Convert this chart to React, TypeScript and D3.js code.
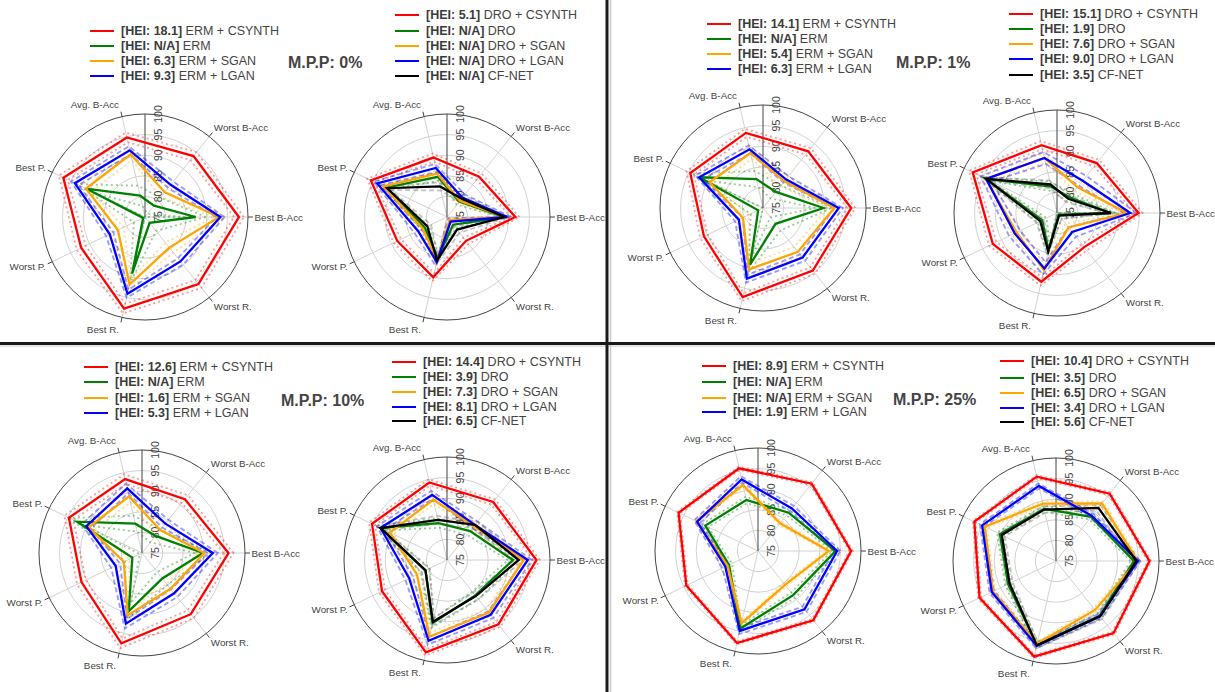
import React from "react";
import * as d3 from "d3";

// Metric axes, counter-clockwise from 3 o'clock
const AXES = ["Best B-Acc", "Worst B-Acc", "Avg. B-Acc", "Best P.", "Worst P.", "Best R.", "Worst R."];
const RADIAL_TICKS = [75, 80, 85, 90, 95, 100];
const RADIAL_RANGE = [75, 100];

const ERM_METHODS = ["ERM + CSYNTH", "ERM", "ERM + SGAN", "ERM + LGAN"];
const DRO_METHODS = ["DRO + CSYNTH", "DRO", "DRO + SGAN", "DRO + LGAN", "CF-NET"];
const ERM_COLORS = ["#ff0000", "#008000", "#ffa500", "#0000ff"];
const DRO_COLORS = ["#ff0000", "#008000", "#ffa500", "#0000ff", "#000000"];
const MPP_LABELS = ["0%", "1%", "10%", "25%"];

// ---- M.P.P 0% ----
const ERM_HEI_0 = ["18.1", "N/A", "6.3", "9.3"];
const ERM_SCORES_0 = [
  [97.8, 93.9, 94.8, 97.0, 92.2, 97.8, 95.8],
  [87.3, 78.5, 80.3, 90.9, 75.5, 89.1, 76.8],
  [93.0, 82.7, 90.6, 90.9, 82.3, 91.8, 84.5],
  [93.3, 85.0, 91.6, 93.9, 84.5, 94.1, 88.8],
];
const ERM_SPREAD_0 = [1.2, 2.5, 1.5, 1.0];
const DRO_HEI_0 = ["5.1", "N/A", "N/A", "N/A", "N/A"];
const DRO_SCORES_0 = [
  [91.6, 87.5, 89.8, 95.5, 88.4, 90.0, 82.4],
  [88.9, 79.8, 85.0, 91.4, 81.0, 85.1, 77.4],
  [89.2, 80.0, 85.8, 92.1, 81.5, 85.8, 76.0],
  [89.6, 81.0, 87.2, 93.8, 82.8, 86.2, 76.4],
  [88.9, 80.7, 82.6, 91.1, 80.3, 85.8, 78.9],
];
const DRO_SPREAD_0 = [1.0, 1.0, 0.8, 1.0, 1.0];

// ---- M.P.P 1% ----
const ERM_HEI_1 = ["14.1", "N/A", "5.4", "6.3"];
const ERM_SCORES_1 = [
  [96.4, 92.6, 93.7, 94.6, 90.9, 97.2, 94.4],
  [89.7, 80.0, 82.2, 92.2, 76.3, 89.1, 79.9],
  [92.3, 83.3, 88.7, 89.4, 80.4, 90.3, 88.6],
  [93.4, 83.9, 89.6, 92.2, 81.5, 92.6, 90.4],
];
const ERM_SPREAD_1 = [1.0, 2.0, 1.5, 1.0];
const DRO_HEI_1 = ["15.1", "1.9", "7.6", "9.0", "3.5"];
const DRO_SCORES_1 = [
  [94.8, 90.5, 91.9, 97.7, 92.3, 92.1, 85.6],
  [88.0, 79.9, 81.6, 94.1, 79.0, 84.2, 75.6],
  [92.0, 83.0, 88.7, 94.1, 85.9, 89.2, 79.5],
  [92.8, 85.0, 88.7, 94.1, 86.4, 88.8, 80.9],
  [88.1, 79.4, 82.1, 94.1, 79.5, 84.6, 75.8],
];
const DRO_SPREAD_1 = [1.0, 1.2, 1.2, 1.5, 1.0];

// ---- M.P.P 10% ----
const ERM_HEI_10 = ["12.6", "N/A", "1.6", "5.3"];
const ERM_SCORES_10 = [
  [96.0, 91.7, 93.4, 94.7, 91.3, 97.5, 94.0],
  [89.8, 80.3, 82.3, 92.5, 77.6, 89.5, 82.9],
  [90.1, 82.1, 89.1, 89.4, 79.9, 90.5, 86.1],
  [92.2, 84.1, 91.1, 90.0, 82.1, 92.6, 87.5],
];
const ERM_SPREAD_10 = [1.2, 2.0, 1.5, 1.2];
const DRO_HEI_10 = ["14.4", "3.9", "7.3", "8.1", "6.5"];
const DRO_SCORES_10 = [
  [96.7, 93.0, 94.3, 95.2, 92.5, 98.0, 95.0],
  [91.0, 84.0, 84.2, 92.9, 80.8, 90.7, 86.0],
  [93.6, 85.5, 90.0, 90.4, 83.1, 94.1, 91.3],
  [94.6, 85.9, 91.2, 92.9, 85.2, 95.1, 92.0],
  [92.4, 85.9, 85.0, 92.9, 80.8, 90.4, 86.2],
];
const DRO_SPREAD_10 = [0.8, 1.2, 1.0, 1.0, 1.0];

// ---- M.P.P 25% ----
const ERM_HEI_25 = ["8.9", "N/A", "N/A", "1.9"];
const ERM_SCORES_25 = [
  [97.6, 95.9, 95.6, 96.4, 94.3, 97.9, 96.5],
  [93.8, 86.9, 87.7, 89.2, 82.8, 94.3, 88.7],
  [92.2, 83.6, 91.4, 91.6, 83.2, 93.0, 85.5],
  [94.2, 88.2, 92.8, 91.4, 83.8, 94.9, 93.1],
];
const ERM_SPREAD_25 = [0.4, 0.8, 0.5, 0.8];
const DRO_HEI_25 = ["10.4", "3.5", "6.5", "3.4", "5.6"];
const DRO_SCORES_25 = [
  [97.7, 95.9, 96.0, 97.0, 95.6, 98.8, 97.4],
  [93.9, 88.7, 88.0, 90.1, 87.9, 95.9, 92.0],
  [94.8, 92.9, 89.3, 94.2, 92.0, 95.6, 90.2],
  [94.9, 89.0, 93.7, 94.9, 92.3, 96.1, 92.1],
  [94.5, 91.5, 87.8, 89.6, 87.5, 96.0, 92.2],
];
const DRO_SPREAD_25 = [0.4, 0.8, 0.6, 0.6, 0.8];

type Group = { names: string[]; colors: string[]; hei: string[]; scores: number[][]; spread: number[] };

const PANEL_GROUPS: { erm: Group; dro: Group }[] = [
  {
    erm: { names: ERM_METHODS, colors: ERM_COLORS, hei: ERM_HEI_0, scores: ERM_SCORES_0, spread: ERM_SPREAD_0 },
    dro: { names: DRO_METHODS, colors: DRO_COLORS, hei: DRO_HEI_0, scores: DRO_SCORES_0, spread: DRO_SPREAD_0 },
  },
  {
    erm: { names: ERM_METHODS, colors: ERM_COLORS, hei: ERM_HEI_1, scores: ERM_SCORES_1, spread: ERM_SPREAD_1 },
    dro: { names: DRO_METHODS, colors: DRO_COLORS, hei: DRO_HEI_1, scores: DRO_SCORES_1, spread: DRO_SPREAD_1 },
  },
  {
    erm: { names: ERM_METHODS, colors: ERM_COLORS, hei: ERM_HEI_10, scores: ERM_SCORES_10, spread: ERM_SPREAD_10 },
    dro: { names: DRO_METHODS, colors: DRO_COLORS, hei: DRO_HEI_10, scores: DRO_SCORES_10, spread: DRO_SPREAD_10 },
  },
  {
    erm: { names: ERM_METHODS, colors: ERM_COLORS, hei: ERM_HEI_25, scores: ERM_SCORES_25, spread: ERM_SPREAD_25 },
    dro: { names: DRO_METHODS, colors: DRO_COLORS, hei: DRO_HEI_25, scores: DRO_SCORES_25, spread: DRO_SPREAD_25 },
  },
];

// Placement of each panel's pieces
type Layout = {
  ermCenter: [number, number];
  droCenter: [number, number];
  ermLegend: { x: number; rows: number[] };
  droLegend: { x: number; rows: number[] };
  mpp: [number, number];
};
const LAYOUTS: Layout[] = [
  { ermCenter: [145, 217], droCenter: [447, 217], ermLegend: { x: 90, rows: [31, 46, 61, 76] }, droLegend: { x: 395, rows: [15, 31, 46, 61, 76] }, mpp: [288, 62] },
  { ermCenter: [763, 208], droCenter: [1057, 213], ermLegend: { x: 707, rows: [24, 39, 54, 69] }, droLegend: { x: 1009, rows: [14, 29, 44, 59, 75] }, mpp: [896, 62] },
  { ermCenter: [142, 553], droCenter: [447, 560], ermLegend: { x: 84, rows: [367, 382, 398, 413] }, droLegend: { x: 392, rows: [362, 377, 392, 407, 421] }, mpp: [281, 400] },
  { ermCenter: [758, 551], droCenter: [1056, 561], ermLegend: { x: 702, rows: [366, 382, 398, 412] }, droLegend: { x: 1000, rows: [361, 378, 393, 408, 422] }, mpp: [893, 399] },
];

const FONT = "'Liberation Sans', Arial, sans-serif";
const R = 103;
const rScale = d3.scaleLinear().domain(RADIAL_RANGE).range([0, R]);
const step = (2 * Math.PI) / AXES.length;
const theta = (i: number) => i * step; // math angle, counter-clockwise

const radialLine = d3
  .lineRadial<number>()
  .angle((_d, i) => Math.PI / 2 - theta(i))
  .radius((d) => rScale(Math.max(RADIAL_RANGE[0], Math.min(RADIAL_RANGE[1], d))))
  .curve(d3.curveLinearClosed);

function Radar({ cx, cy, group }: { cx: number; cy: number; group: Group }) {
  const axisColor = "#444";
  return (
    <g transform={`translate(${cx},${cy})`}>
      {RADIAL_TICKS.filter((t) => t > 75 && t < 100).map((t) => (
        <circle key={t} r={rScale(t)} fill="none" stroke="#d2d2d2" strokeWidth={1} />
      ))}
      {AXES.map((a, i) => {
        const c = Math.cos(theta(i));
        const s = Math.sin(theta(i));
        return (
          <g key={a}>
            <line x1={0} y1={0} x2={R * c} y2={-R * s} stroke="#d2d2d2" strokeWidth={1} />
            <line x1={R * c} y1={-R * s} x2={(R + 5) * c} y2={-(R + 5) * s} stroke={axisColor} strokeWidth={1} />
          </g>
        );
      })}
      <circle r={R} fill="none" stroke={axisColor} strokeWidth={1} />
      <line x1={0} y1={0} x2={0} y2={-R} stroke={axisColor} strokeWidth={1} />
      {RADIAL_TICKS.map((t) => (
        <text
          key={t}
          transform={`translate(13,${-rScale(t)}) rotate(-90)`}
          textAnchor="middle"
          dominantBaseline="central"
          fontSize={10.5}
          fill={axisColor}
          fontFamily={FONT}
        >
          {t}
        </text>
      ))}
      {AXES.map((a, i) => {
        const c = Math.cos(theta(i));
        const s = Math.sin(theta(i));
        const ex = (R + 5) * c;
        const ey = -(R + 5) * s;
        const anchor = c > 0.1 ? "start" : c < -0.1 ? "end" : "middle";
        const dx = c > 0.1 ? 1.5 : c < -0.1 ? -2 : 0;
        return (
          <text
            key={a}
            x={ex + dx}
            y={ey - s * 7}
            textAnchor={anchor}
            dominantBaseline="central"
            fontSize={9.8}
            fill={axisColor}
            fontFamily={FONT}
          >
            {a}
          </text>
        );
      })}
      {group.scores.map((vals, k) => {
        const sp = group.spread[k];
        const col = group.colors[k] === "#000000" ? "#666" : group.colors[k];
        const dash = k === 3 || k === 4 ? "5,3" : "2,3";
        return (
          <g key={`b${k}`} opacity={0.4}>
            <path d={radialLine(vals.map((v) => v + sp)) ?? ""} fill="none" stroke={col} strokeWidth={1.8} strokeDasharray={dash} />
            <path d={radialLine(vals.map((v) => v - sp)) ?? ""} fill="none" stroke={col} strokeWidth={1.8} strokeDasharray={dash} />
          </g>
        );
      })}
      {group.scores.map((vals, k) => (
        <path key={`s${k}`} d={radialLine(vals) ?? ""} fill="none" stroke={group.colors[k]} strokeWidth={2.3} strokeLinejoin="miter" />
      ))}
    </g>
  );
}

function Legend({ x, rows, group }: { x: number; rows: number[]; group: Group }) {
  return (
    <g fontFamily={FONT} fontSize={12.5} fill="#444">
      {group.names.map((n, k) => (
        <g key={n}>
          <line x1={x} x2={x + 24} y1={rows[k]} y2={rows[k]} stroke={group.colors[k]} strokeWidth={2} />
          <text x={x + 31} y={rows[k]} dominantBaseline="central">
            <tspan fontWeight="bold" fill="#3a3a3a">{`[HEI: ${group.hei[k]}]`}</tspan>
            {` ${n}`}
          </text>
        </g>
      ))}
    </g>
  );
}

export default function App() {
  return (
    <svg width={1215} height={692} style={{ position: "absolute", left: 0, top: 0, background: "#fff" }}>
      <rect width={1215} height={692} fill="#fff" />
      {PANEL_GROUPS.map((p, i) => {
        const L = LAYOUTS[i];
        return (
          <g key={i}>
            <Legend x={L.ermLegend.x} rows={L.ermLegend.rows} group={p.erm} />
            <Legend x={L.droLegend.x} rows={L.droLegend.rows} group={p.dro} />
            <text x={L.mpp[0]} y={L.mpp[1]} dominantBaseline="central" fontFamily={FONT} fontWeight="bold" fontSize={16} fill="#444">
              {`M.P.P: ${MPP_LABELS[i]}`}
            </text>
            <Radar cx={L.ermCenter[0]} cy={L.ermCenter[1]} group={p.erm} />
            <Radar cx={L.droCenter[0]} cy={L.droCenter[1]} group={p.dro} />
          </g>
        );
      })}
      <line x1={610.5} x2={610.5} y1={0} y2={692} stroke="#c8c8c8" strokeWidth={1.5} />
      <line x1={0} x2={1215} y1={346} y2={346} stroke="#c8c8c8" strokeWidth={1} />
      <line x1={607} x2={607} y1={0} y2={692} stroke="#1a1a1a" strokeWidth={3} />
      <line x1={0} x2={1215} y1={343.5} y2={343.5} stroke="#1a1a1a" strokeWidth={3} />
    </svg>
  );
}
